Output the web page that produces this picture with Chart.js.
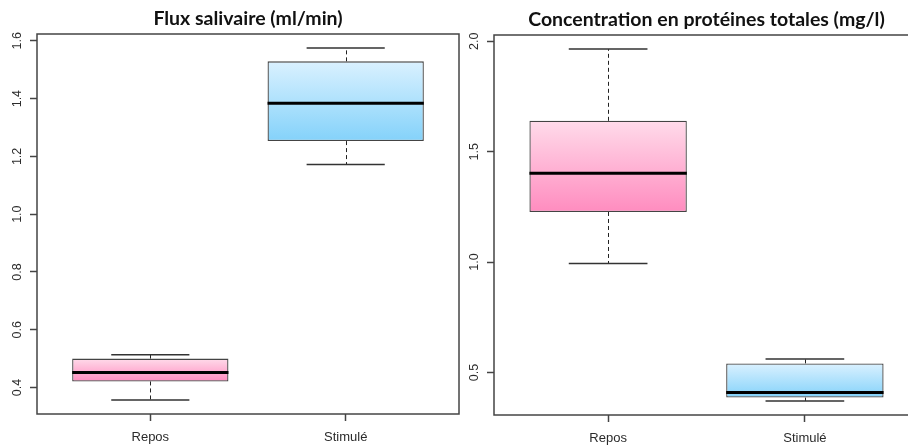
<!DOCTYPE html>
<html>
<head>
<meta charset="utf-8">
<script src="https://cdn.jsdelivr.net/npm/chart.js@4"></script>
<style>
  html, body { margin: 0; padding: 0; background: #fff; overflow: hidden; }
  #wrap { position: relative; width: 908px; height: 446px; overflow: hidden; }
  canvas { position: absolute; top: 0; }
</style>
</head>
<body>
<div id="wrap">
  <canvas id="fluxChart" width="470" height="446" style="left:0"></canvas>
  <canvas id="protChart" width="480" height="446" style="left:454px"></canvas>
</div>
<script>
const categories = ['Repos', 'Stimulé']
const positions = [1, 2]

// Flux salivaire (ml/min)
const fluxMin = [0.357, 1.172]
const fluxQ1 = [0.421, 1.253]
const fluxMedian = [0.452, 1.384]
const fluxQ3 = [0.500, 1.529]
const fluxMax = [0.513, 1.575]
const fluxTicks = [0.4, 0.6, 0.8, 1.0, 1.2, 1.4, 1.6]

// Concentration en protéines totales (mg/l)
const protMin = [0.994, 0.371]
const protQ1 = [1.227, 0.386]
const protMedian = [1.402, 0.409]
const protQ3 = [1.640, 0.541]
const protMax = [1.965, 0.561]
const protTicks = [0.5, 1.0, 1.5, 2.0]

const boxColors = [['#ffdbea', '#ff8cbf'], ['#daf1ff', '#84d2fa']]
const lineColor = '#444'
const textColor = '#2b2b2b'

// R style limits: data range plus 4% on each side
function rangeOf(mins, maxs) {
    const lo = Math.min(...mins)
    const hi = Math.max(...maxs)
    const pad = (hi - lo) * 0.04
    return [lo - pad, hi + pad]
}

function boxFill(context, stats) {
    const chart = context.chart
    const i = context.dataIndex
    const [light, dark] = boxColors[i]
    if (!chart.chartArea) return dark
    const yScale = chart.scales.y
    const top = yScale.getPixelForValue(stats.q3[i])
    const bottom = yScale.getPixelForValue(stats.q1[i])
    const gradient = chart.ctx.createLinearGradient(0, top, 0, bottom)
    gradient.addColorStop(0, light)
    gradient.addColorStop(1, dark)
    return gradient
}

function makeBoxPlugin(stats) {
    return {
        id: 'boxParts',
        beforeDatasetsDraw(chart) {
            const { ctx, scales: { y } } = chart
            const bars = chart.getDatasetMeta(0).data
            ctx.save()
            bars.forEach((bar, i) => {
                const cx = Math.round(bar.x) + 0.5
                const capHalf = bar.width / 4
                const yMin = y.getPixelForValue(stats.min[i])
                const yQ1 = y.getPixelForValue(stats.q1[i])
                const yQ3 = y.getPixelForValue(stats.q3[i])
                const yMax = y.getPixelForValue(stats.max[i])

                // dashed whiskers
                ctx.strokeStyle = '#222'
                ctx.lineWidth = 1
                ctx.setLineDash([4, 3])
                ctx.beginPath()
                ctx.moveTo(cx, yQ3)
                ctx.lineTo(cx, yMax)
                ctx.moveTo(cx, yQ1)
                ctx.lineTo(cx, yMin)
                ctx.stroke()

                // caps
                ctx.setLineDash([])
                ctx.strokeStyle = '#333'
                ctx.lineWidth = 1.5
                ctx.beginPath()
                ctx.moveTo(bar.x - capHalf, yMax)
                ctx.lineTo(bar.x + capHalf, yMax)
                ctx.moveTo(bar.x - capHalf, yMin)
                ctx.lineTo(bar.x + capHalf, yMin)
                ctx.stroke()
            })
            ctx.restore()
        },
        afterDatasetsDraw(chart) {
            const { ctx, scales: { y } } = chart
            const bars = chart.getDatasetMeta(0).data
            ctx.save()
            ctx.strokeStyle = '#000'
            ctx.lineWidth = 3
            bars.forEach((bar, i) => {
                const yMed = y.getPixelForValue(stats.median[i])
                ctx.beginPath()
                ctx.moveTo(bar.x - bar.width / 2, yMed)
                ctx.lineTo(bar.x + bar.width / 2, yMed)
                ctx.stroke()
            })
            ctx.restore()
        },
        afterDraw(chart) {
            const { ctx, chartArea: a } = chart
            ctx.save()
            ctx.strokeStyle = lineColor
            ctx.lineWidth = 1.5
            ctx.strokeRect(a.left, a.top, a.right - a.left, a.bottom - a.top)
            ctx.restore()
        }
    }
}

function renderBoxChart(canvasId, title, stats, ticks, layout) {
    const ctx = document.getElementById(canvasId)
    const [yLo, yHi] = rangeOf(stats.min, stats.max)

    return new Chart(ctx, {
        type: 'bar',
        data: {
            datasets: [{
                data: positions.map((p, i) => ({ x: p, y: [stats.q1[i], stats.q3[i]] })),
                backgroundColor: context => boxFill(context, stats),
                borderColor: '#444',
                borderWidth: 1.3,
                borderSkipped: false,
                barPercentage: 0.8,
                categoryPercentage: 1
            }]
        },
        options: {
            responsive: false,
            animation: false,
            layout: { padding: { left: 0, right: layout.padRight, top: 0, bottom: 0 } },
            plugins: {
                legend: { display: false },
                tooltip: { enabled: false },
                title: {
                    display: true,
                    text: title,
                    fullSize: false,
                    color: '#111',
                    font: { family: 'Lato', size: 19.5, weight: 'bold', lineHeight: 1.2 },
                    padding: { top: layout.titleTop, bottom: layout.titleBottom }
                }
            },
            scales: {
                x: {
                    type: 'linear',
                    min: 0.42,
                    max: 2.58,
                    offset: false,
                    afterBuildTicks: axis => { axis.ticks = positions.map(v => ({ value: v })) },
                    afterFit: axis => { axis.height = layout.xHeight },
                    border: { display: false },
                    grid: { drawOnChartArea: false, offset: false, tickLength: 7, tickColor: lineColor, tickWidth: 1.5 },
                    ticks: {
                        callback: v => categories[positions.indexOf(v)],
                        maxRotation: 0,
                        padding: 9,
                        color: textColor,
                        font: { family: 'Liberation Sans', size: 13 }
                    }
                },
                y: {
                    min: yLo,
                    max: yHi,
                    afterBuildTicks: axis => { axis.ticks = ticks.map(v => ({ value: v })) },
                    afterFit: axis => { axis.width = layout.yWidth },
                    border: { display: false },
                    grid: { drawOnChartArea: false, tickLength: 7, tickColor: lineColor, tickWidth: 1.5 },
                    ticks: {
                        callback: v => v.toFixed(1),
                        minRotation: 90,
                        maxRotation: 90,
                        crossAlign: 'center',
                        padding: 4,
                        color: textColor,
                        font: { family: 'Liberation Sans', size: 12.5 }
                    }
                }
            }
        },
        plugins: [makeBoxPlugin(stats)]
    })
}

renderBoxChart('fluxChart', 'Flux salivaire (ml/min)',
    { min: fluxMin, q1: fluxQ1, median: fluxMedian, q3: fluxQ3, max: fluxMax },
    fluxTicks,
    { padRight: 11, yWidth: 37, xHeight: 32, titleTop: 7.3, titleBottom: 3.3 })

renderBoxChart('protChart', 'Concentration en protéines totales (mg/l)',
    { min: protMin, q1: protQ1, median: protMedian, q3: protQ3, max: protMax },
    protTicks,
    { padRight: 15, yWidth: 40, xHeight: 31, titleTop: 8, titleBottom: 3.6 })
</script>
</body>
</html>
